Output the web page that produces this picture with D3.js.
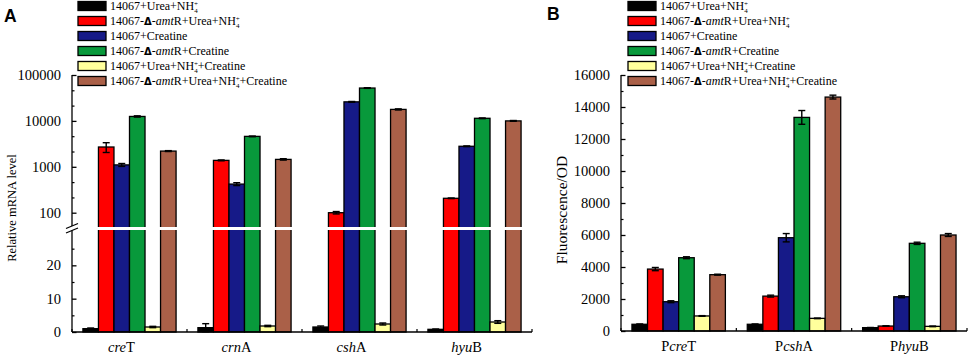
<!DOCTYPE html>
<html>
<head>
<meta charset="utf-8">
<script src="https://cdn.jsdelivr.net/npm/d3@7"></script>
<style>
  body { margin: 0; background: #fff; }
  svg { display: block; font-family: "Liberation Serif", "Times New Roman", serif; }
</style>
</head>
<body>
<svg id="chart"></svg>
<script>
// series (same six strains / conditions in both panels)
var seriesNames = [
  "14067+Urea+NH4+",
  "14067-Δ-amtR+Urea+NH4+",
  "14067+Creatine",
  "14067-Δ-amtR+Creatine",
  "14067+Urea+NH4++Creatine",
  "14067-Δ-amtR+Urea+NH4++Creatine"
];
var seriesColors = ["#000000", "#ff0000", "#161a88", "#08993b", "#ffff9c", "#aa6048"];

// panel A: relative mRNA level, rows = series, columns = genes
var genesA = ["creT", "crnA", "cshA", "hyuB"];
var mrnaA = [
  [1.0, 1.3, 1.5, 0.8],
  [2700, 1380, 100, 206],
  [1100, 420, 26000, 2800],
  [12500, 4600, 52000, 11400],
  [1.5, 1.8, 2.4, 3.0],
  [2200, 1450, 17800, 10000]
];
var mrnaErrA = [
  [0.2, 1.2, 0.3, 0.1],
  [650, 30, 6, 3],
  [80, 30, 500, 50],
  [400, 80, 800, 200],
  [0.2, 0.2, 0.3, 0.4],
  [50, 50, 500, 200]
];
var ticksLogA = [100, 1000, 10000, 100000];
var minorLogA = [215, 464, 2154, 4642, 21544, 46416];
var ticksLinA = [0, 10, 20];
var minorLinA = [5, 15, 25];

// panel B: fluorescence/OD, rows = series, columns = promoters
var promotersB = ["PcreT", "PcshA", "PhyuB"];
var fluoB = [
  [420, 420, 210],
  [3870, 2180, 310],
  [1830, 5830, 2140],
  [4580, 13350, 5480],
  [940, 790, 290],
  [3520, 14620, 6000]
];
var fluoErrB = [
  [20, 20, 10],
  [100, 60, 15],
  [60, 260, 60],
  [60, 430, 70],
  [20, 20, 20],
  [30, 120, 90]
];
var ticksB = [0, 2000, 4000, 6000, 8000, 10000, 12000, 14000, 16000];
var minorB = [1000, 3000, 5000, 7000, 9000, 11000, 13000, 15000];

var width = 969, height = 355;
var svg = d3.select("#chart").attr("width", width).attr("height", height);

// turn a table of rows = series into flat records
var toRecords = function (groups, values, errs) {
  var out = [];
  values.forEach(function (row, s) {
    row.forEach(function (v, g) {
      out.push({ group: groups[g], series: s, value: v, err: errs[s][g] });
    });
  });
  return out;
};

// legend / series text with delta, italic amt and NH4+
var richText = function (sel, str) {
  var pendingDy = 0;
  str.split(/(Δ|amt|NH4\+)/).forEach(function (part) {
    if (!part) return;
    var t;
    if (part === "Δ") {
      t = sel.append("tspan").text("Δ")
        .style("font-family", "DejaVu Sans").style("font-weight", "bold").style("font-size", "10px");
    } else if (part === "amt") {
      t = sel.append("tspan").text("amt").style("font-style", "italic");
    } else if (part === "NH4+") {
      t = sel.append("tspan").text("NH");
      if (pendingDy) { t.attr("dy", pendingDy); pendingDy = 0; }
      sel.append("tspan").text("4").attr("dy", 2.5).style("font-size", "7px");
      sel.append("tspan").text("+").attr("dx", -3.8).attr("dy", -6.5).style("font-size", "7px");
      pendingDy = 4;
      return;
    } else {
      t = sel.append("tspan").text(part);
    }
    if (pendingDy) { t.attr("dy", pendingDy); pendingDy = 0; }
  });
};

// gene / promoter label: P roman, gene italic, last letter roman
var geneText = function (sel, str) {
  var m = str.match(/^(P?)([a-z]+)([A-Z])$/);
  sel.text(null);
  if (m[1]) sel.append("tspan").text(m[1]);
  sel.append("tspan").text(m[2]).style("font-style", "italic");
  sel.append("tspan").text(m[3]);
};

var drawLegend = function (x0) {
  var rowY = d3.scaleLinear().domain([0, 5]).range([6, 81]);
  var items = svg.append("g").classed("legend", true)
    .selectAll("g").data(seriesNames).enter().append("g")
    .attr("transform", function (d, i) { return "translate(" + x0 + "," + rowY(i) + ")"; });
  items.append("rect")
    .attr("x", 0).attr("y", -4.5).attr("width", 28).attr("height", 9)
    .attr("fill", function (d, i) { return seriesColors[i]; })
    .attr("stroke", "#000").attr("stroke-width", 1.3);
  items.append("text")
    .attr("x", 32).attr("y", 4)
    .style("font-size", "12px")
    .each(function (d) { richText(d3.select(this), d); });
};

var drawBars = function (records, x0, yFn, base) {
  var x1 = d3.scaleBand().domain(d3.range(seriesNames.length)).range([0, x0.bandwidth()]);
  var g = svg.append("g").classed("bars", true);
  g.selectAll("rect").data(records).enter().append("rect")
    .attr("x", function (d) { return x0(d.group) + x1(d.series); })
    .attr("width", x1.bandwidth())
    .attr("y", function (d) { return yFn(d.value); })
    .attr("height", function (d) { return base - yFn(d.value); })
    .attr("fill", function (d) { return seriesColors[d.series]; })
    .attr("stroke", "#000").attr("stroke-width", 1.3);

  var eb = svg.append("g").classed("errorbars", true)
    .attr("stroke", "#000").attr("stroke-width", 1.4)
    .selectAll("g").data(records).enter().append("g")
    .attr("transform", function (d) {
      return "translate(" + (x0(d.group) + x1(d.series) + x1.bandwidth() / 2) + ",0)";
    });
  eb.append("line")
    .attr("y1", function (d) { return yFn(d.value + d.err); })
    .attr("y2", function (d) { return yFn(d.value - d.err); });
  eb.append("line").attr("x1", -3.5).attr("x2", 3.5)
    .attr("y1", function (d) { return yFn(d.value + d.err); })
    .attr("y2", function (d) { return yFn(d.value + d.err); });
  eb.append("line").attr("x1", -3.5).attr("x2", 3.5)
    .attr("y1", function (d) { return yFn(d.value - d.err); })
    .attr("y2", function (d) { return yFn(d.value - d.err); });
};

var drawXAxis = function (x0, left, right, base, labelDx) {
  var axis = svg.append("g").classed("xaxis", true)
    .attr("transform", "translate(0," + base + ")")
    .call(d3.axisBottom(x0).tickSize(0).tickPadding(9.5));
  axis.select(".domain").remove();
  axis.selectAll(".tick text")
    .style("font-size", "14.5px")
    .style("font-family", "Liberation Serif")
    .attr("dx", labelDx)
    .each(function (d) { geneText(d3.select(this), d); });
  axis.append("line").attr("x1", left).attr("x2", right)
    .attr("stroke", "#000").attr("stroke-width", 1.3);
  var bounds = d3.range(x0.domain().length + 1).map(function (i) { return left + i * x0.step(); });
  axis.selectAll("line.minor").data(bounds).enter().append("line").classed("minor", true)
    .attr("x1", function (d) { return d; }).attr("x2", function (d) { return d; })
    .attr("y1", 0).attr("y2", -3)
    .attr("stroke", "#000").attr("stroke-width", 1.2);
};

var drawYTicks = function (scale, left, major, minor, fmt) {
  var g = svg.append("g").classed("yaxis", true).attr("transform", "translate(" + left + ",0)");
  var ax = g.append("g").call(d3.axisLeft(scale).tickValues(major).tickFormat(fmt)
    .tickSizeInner(-4.5).tickSizeOuter(0).tickPadding(11));
  ax.select(".domain").remove();
  ax.selectAll(".tick line").attr("stroke-width", 1.3);
  ax.selectAll(".tick text").style("font-size", "14.5px").style("font-family", "Liberation Serif");
  var mn = g.append("g").call(d3.axisLeft(scale).tickValues(minor).tickFormat("")
    .tickSizeInner(-2.5).tickSizeOuter(0));
  mn.select(".domain").remove();
  mn.selectAll(".tick line").attr("stroke-width", 1.2);
};

// ---------- panel A (broken axis: linear bottom, log top) ----------
var aLeft = 72, aRight = 532, aBase = 332;
var x0A = d3.scaleBand().domain(genesA).range([aLeft, aRight]).paddingInner(0.19).paddingOuter(0.095);
var yLinA = d3.scaleLinear().domain([0, 30]).range([aBase, 232]);
var yLogA = d3.scaleLog().domain([100, 100000]).range([212.7, 75]);
var yA = function (v) { return v <= 30 ? yLinA(Math.max(v, 0)) : yLogA(v); };

drawBars(toRecords(genesA, mrnaA, mrnaErrA), x0A, yA, aBase);
// white gap across bars at the break
svg.append("rect").attr("x", aLeft + 1).attr("y", 227).attr("width", aRight - aLeft).attr("height", 3).attr("fill", "#fff");
drawXAxis(x0A, aLeft, aRight, aBase, -8);
drawYTicks(yLogA, aLeft, ticksLogA, minorLogA, d3.format("d"));
drawYTicks(yLinA, aLeft, ticksLinA, minorLinA, d3.format("d"));
var axA = svg.append("g").attr("stroke", "#000").attr("stroke-width", 1.3);
axA.append("line").attr("x1", aLeft).attr("x2", aLeft).attr("y1", yLogA(100000)).attr("y2", 226);
axA.append("line").attr("x1", aLeft).attr("x2", aLeft).attr("y1", 230.5).attr("y2", aBase);
axA.append("line").attr("x1", aLeft - 6).attr("x2", aLeft + 6).attr("y1", 228.5).attr("y2", 223.5);
axA.append("line").attr("x1", aLeft - 6).attr("x2", aLeft + 6).attr("y1", 233).attr("y2", 228);

svg.append("text").attr("x", 4).attr("y", 22).text("A")
  .style("font-family", "Liberation Sans").style("font-weight", "bold").style("font-size", "17.5px");
svg.append("text").text("Relative mRNA level")
  .attr("transform", "translate(16,208) rotate(-90)").attr("text-anchor", "middle")
  .style("font-size", "12.5px");
drawLegend(78);

// ---------- panel B (linear) ----------
var bLeft = 621, bRight = 967, bBase = 331;
var x0B = d3.scaleBand().domain(promotersB).range([bLeft, bRight]).paddingInner(0.19).paddingOuter(0.095);
var yB = d3.scaleLinear().domain([0, 16000]).range([bBase, 75]);

drawBars(toRecords(promotersB, fluoB, fluoErrB), x0B, yB, bBase);
drawXAxis(x0B, bLeft, bRight, bBase, 0);
drawYTicks(yB, bLeft, ticksB, minorB, d3.format("d"));
svg.append("line").attr("x1", bLeft).attr("x2", bLeft).attr("y1", yB(16000)).attr("y2", bBase)
  .attr("stroke", "#000").attr("stroke-width", 1.3);

svg.append("text").attr("x", 547).attr("y", 20).text("B")
  .style("font-family", "Liberation Sans").style("font-weight", "bold").style("font-size", "17.5px");
svg.append("text").text("Fluorescence/OD")
  .attr("transform", "translate(567,210) rotate(-90)").attr("text-anchor", "middle")
  .style("font-size", "15.5px");
drawLegend(628);
</script>
</body>
</html>
